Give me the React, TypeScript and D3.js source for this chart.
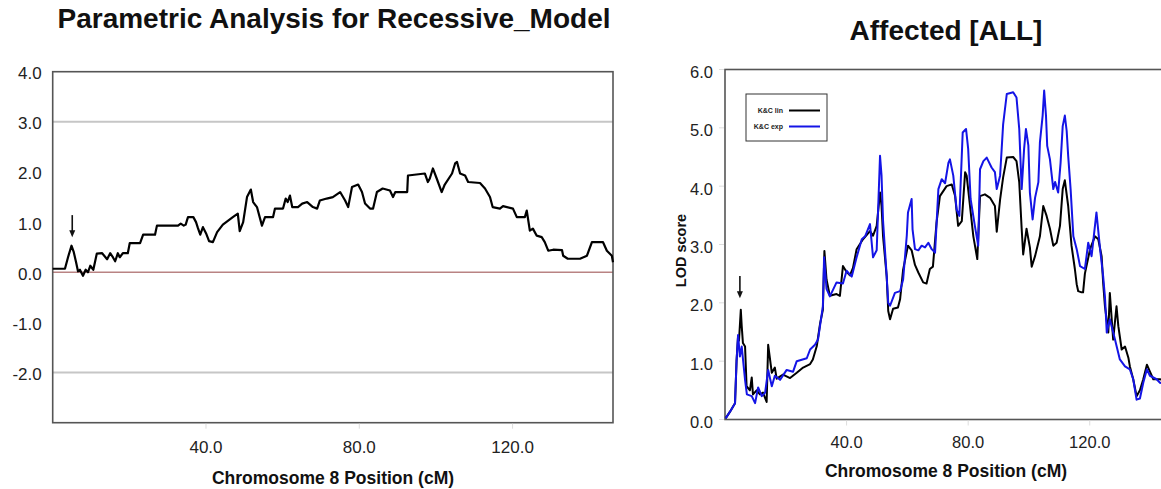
import React from "react";
import * as d3 from "d3";

// ---------- data ----------
// Left panel: parametric LOD (recessive model) along chromosome 8 (cM, LOD)
const recessivePos = [0, 3.2, 4.0, 4.9, 5.5, 6.1, 6.6, 7.1, 7.9, 8.6, 9.2, 9.8, 10.6, 11.5, 12.9, 14.2, 15.0, 15.7, 16.3, 17.0, 17.5, 18.3, 19.6, 20.1, 22.8, 23.6, 26.7, 27.2, 32.7, 33.4, 34.2, 34.7, 35.3, 36.7, 37.4, 37.9, 38.5, 39.2, 40.0, 40.8, 41.8, 42.9, 44.4, 47.0, 48.3, 48.8, 49.7, 50.7, 51.7, 52.3, 53.3, 54.6, 55.4, 57.5, 58.0, 60.1, 60.8, 61.3, 61.9, 62.5, 64.0, 65.1, 66.4, 67.9, 69.0, 69.7, 71.5, 73.1, 75.0, 76.3, 77.1, 78.1, 79.7, 80.7, 81.5, 82.8, 83.6, 84.6, 86.1, 88.0, 88.8, 89.4, 92.5, 92.7, 97.1, 97.9, 98.4, 99.2, 100.2, 101.5, 102.3, 104.2, 105.0, 105.5, 106.3, 107.6, 108.4, 111.5, 112.8, 114.1, 114.8, 116.7, 117.5, 120.1, 121.1, 123.2, 123.7, 124.5, 125.3, 126.3, 127.6, 128.4, 129.3, 130.6, 132.9, 133.2, 134.4, 137.6, 139.4, 140.7, 143.6, 144.6, 145.9, 146.2];
const recessiveLod = [0.07, 0.07, 0.3, 0.53, 0.4, 0.2, 0.02, 0.05, -0.07, 0.05, 0.0, 0.13, 0.05, 0.37, 0.38, 0.26, 0.38, 0.3, 0.22, 0.38, 0.3, 0.38, 0.38, 0.58, 0.58, 0.75, 0.75, 0.93, 0.93, 0.97, 0.93, 0.95, 1.1, 1.1, 1.0, 0.88, 0.75, 0.9, 0.78, 0.62, 0.6, 0.8, 0.95, 1.1, 1.17, 0.82, 1.0, 1.5, 1.65, 1.4, 1.3, 0.93, 1.1, 1.1, 1.27, 1.27, 1.47, 1.4, 1.53, 1.3, 1.3, 1.37, 1.4, 1.3, 1.27, 1.43, 1.47, 1.5, 1.6, 1.43, 1.3, 1.7, 1.75, 1.6, 1.37, 1.27, 1.27, 1.6, 1.67, 1.63, 1.5, 1.6, 1.6, 1.93, 1.97, 1.8, 1.87, 2.07, 1.87, 1.6, 1.75, 1.97, 2.17, 2.2, 1.97, 1.93, 1.8, 1.78, 1.67, 1.5, 1.3, 1.27, 1.32, 1.27, 1.1, 1.1, 1.23, 0.83, 0.87, 0.73, 0.7, 0.6, 0.43, 0.45, 0.44, 0.33, 0.27, 0.27, 0.33, 0.6, 0.6, 0.43, 0.33, 0.2];

// Right panel: K&C lin (black) and K&C exp (blue)
const kcLinPos = [0.2, 1.6, 3.3, 3.8, 4.3, 4.6, 5.2, 5.5, 5.9, 6.6, 7.1, 8.2, 8.8, 9.2, 10.4, 11.5, 12.5, 13.7, 14.2, 15.4, 16.4, 17.0, 19.1, 21.4, 23.6, 25.7, 28.0, 28.9, 30.2, 31.3, 32.2, 32.7, 33.4, 34.5, 36.7, 37.8, 38.8, 40.0, 41.1, 42.1, 43.3, 45.4, 47.7, 48.7, 49.9, 51.0, 51.5, 52.0, 53.2, 53.7, 54.3, 55.3, 56.9, 57.6, 58.6, 60.2, 61.4, 62.5, 63.6, 65.2, 66.3, 67.4, 68.4, 69.6, 70.7, 72.9, 74.6, 75.7, 76.7, 77.9, 79.0, 79.5, 80.6, 81.7, 83.0, 83.9, 85.5, 87.2, 88.8, 89.4, 90.5, 91.5, 92.7, 94.8, 95.9, 96.8, 97.6, 98.1, 99.2, 100.3, 100.9, 102.0, 103.6, 104.7, 105.8, 106.9, 108.0, 109.1, 110.2, 111.1, 111.8, 112.9, 114.0, 115.1, 115.7, 116.2, 117.3, 117.8, 118.4, 120.1, 121.7, 122.8, 123.9, 124.4, 125.0, 126.1, 126.6, 127.7, 128.8, 129.4, 130.5, 131.6, 132.7, 133.2, 134.3, 135.4, 136.5, 137.6, 138.8, 139.8, 140.9, 143.1, 146.0];
const kcLinLod = [0.02, 0.13, 0.28, 1.0, 1.43, 1.35, 1.88, 1.6, 1.31, 1.25, 0.57, 0.5, 0.72, 0.43, 0.5, 0.43, 0.46, 0.3, 1.28, 0.8, 0.89, 0.7, 0.77, 0.71, 0.8, 0.89, 0.95, 1.03, 1.26, 1.65, 1.88, 2.89, 2.4, 2.12, 2.15, 2.12, 2.63, 2.53, 2.47, 2.6, 2.92, 3.09, 3.23, 3.15, 3.32, 3.89, 3.66, 3.14, 2.45, 1.86, 1.72, 1.9, 1.92, 2.06, 2.57, 2.98, 2.9, 2.65, 2.52, 2.35, 2.33, 2.58, 2.62, 3.38, 3.83, 4.0, 4.03, 3.83, 3.32, 3.4, 4.24, 4.18, 3.66, 3.14, 2.75, 3.83, 3.86, 3.8, 3.66, 3.22, 3.77, 4.15, 4.49, 4.5, 4.43, 4.07, 3.27, 2.83, 3.27, 2.95, 2.62, 2.8, 3.14, 3.66, 3.49, 3.27, 2.98, 3.03, 3.32, 3.95, 4.1, 3.66, 2.98, 2.58, 2.32, 2.2, 2.18, 2.18, 2.5, 2.92, 3.14, 3.09, 2.8, 2.35, 1.94, 1.49, 2.17, 1.37, 1.94, 1.6, 1.2, 1.25, 1.06, 0.91, 0.69, 0.4, 0.5, 0.69, 0.94, 0.82, 0.69, 0.69, 0.65];

const kcExpPos = [0.2, 1.6, 3.3, 3.8, 4.3, 4.9, 5.5, 6.6, 7.2, 8.8, 9.9, 10.9, 12.1, 13.2, 14.2, 15.4, 16.4, 18.1, 20.3, 22.4, 23.6, 26.9, 28.0, 29.6, 30.6, 32.2, 32.6, 33.4, 34.5, 36.7, 38.8, 40.0, 41.7, 43.3, 45.0, 46.1, 47.7, 48.7, 49.9, 51.0, 51.5, 52.0, 53.2, 53.7, 54.3, 55.9, 57.6, 58.6, 59.8, 60.2, 61.4, 61.7, 62.5, 63.6, 64.7, 65.8, 66.9, 68.0, 69.1, 70.2, 71.3, 72.4, 73.5, 74.0, 75.1, 76.2, 77.1, 78.2, 79.3, 80.0, 80.8, 82.2, 83.3, 83.9, 85.0, 86.1, 87.7, 88.8, 89.4, 90.5, 91.5, 92.7, 94.8, 95.9, 96.8, 97.6, 98.4, 99.0, 99.8, 100.3, 101.2, 102.0, 103.1, 103.6, 104.5, 105.0, 105.6, 106.0, 106.9, 108.0, 108.6, 109.6, 110.4, 111.1, 111.8, 112.4, 112.9, 113.7, 114.6, 115.7, 116.8, 118.4, 119.5, 120.6, 122.2, 123.4, 124.4, 125.0, 125.6, 126.6, 128.3, 129.9, 131.6, 133.2, 134.3, 135.4, 136.5, 137.6, 138.8, 139.8, 142.0, 143.1, 146.0];
const kcExpLod = [0.02, 0.13, 0.28, 1.0, 1.45, 1.08, 1.25, 0.68, 0.43, 0.4, 0.28, 0.55, 0.4, 0.46, 0.85, 0.57, 0.75, 0.68, 0.85, 0.82, 1.0, 1.05, 1.2, 1.28, 1.37, 1.94, 2.78, 2.24, 2.11, 2.35, 2.33, 2.55, 2.45, 2.78, 3.09, 3.14, 3.35, 2.78, 2.9, 4.52, 4.18, 3.4, 2.45, 2.0, 1.95, 2.17, 2.2, 2.4, 3.15, 3.55, 3.78, 3.26, 2.92, 2.9, 2.98, 2.95, 3.03, 2.92, 2.86, 3.95, 4.12, 4.05, 4.4, 4.46, 4.18, 3.6, 3.49, 4.92, 4.98, 4.64, 3.78, 3.32, 2.98, 4.29, 4.43, 4.49, 4.32, 4.24, 3.95, 4.18, 5.06, 5.58, 5.61, 5.52, 4.98, 3.95, 4.64, 4.98, 4.7, 3.89, 3.43, 3.8, 4.07, 4.75, 5.21, 5.64, 5.21, 4.69, 4.46, 3.95, 4.07, 3.89, 4.4, 5.03, 5.21, 4.95, 4.52, 3.95, 3.14, 2.92, 2.63, 2.58, 3.03, 2.8, 3.55, 2.92, 2.46, 2.1, 1.49, 1.72, 1.37, 1.03, 0.91, 0.86, 0.69, 0.34, 0.36, 0.63, 0.86, 0.75, 0.69, 0.63, 0.6];

const xTickValues = [40, 80, 120];
const leftYTicks = [4, 3, 2, 1, 0, -1, -2];
const leftThresholds = [3, -2];
const rightYTicks = [0, 1, 2, 3, 4, 5, 6];
const legendLabels = ["K&C lin", "K&C exp"];
const seriesColors = ["#000000", "#1414e6"];
const markerPos = 5.1;

const FONT = "'Liberation Sans', Arial, Helvetica, sans-serif";

function zip(xs: number[], ys: number[]): [number, number][] {
  return xs.map((x, i) => [x, ys[i]]);
}

export default function App() {
  // Left panel scales
  const lx = d3.scaleLinear().domain([0, 146.2]).range([52.7, 613]);
  const ly = d3.scaleLinear().domain([-3, 4]).range([422.7, 71.7]);
  // Right panel scales
  const rx = d3.scaleLinear().domain([0, 146.2]).range([725, 1169.4]);
  const ry = d3.scaleLinear().domain([0, 6]).range([419.5, 69.5]);

  const leftLine = d3.line<[number, number]>().x((d) => lx(d[0])).y((d) => ly(d[1]));
  const rightLine = d3.line<[number, number]>().x((d) => rx(d[0])).y((d) => ry(d[1]));

  const fmt = (v: number) => d3.format(".1f")(v).replace("\u2212", "-");

  const arrow = (x: number, y1: number, y2: number) => (
    <g>
      <line x1={x} x2={x} y1={y1} y2={y2 - 5} stroke="#111" strokeWidth={1.6} />
      <path d={`M${x - 3},${y2 - 7} L${x + 3},${y2 - 7} L${x},${y2} Z`} fill="#111" />
    </g>
  );

  return (
    <svg
      width={1161}
      height={489}
      style={{ position: "absolute", left: 0, top: 0, background: "#fff" }}
      fontFamily={FONT}
    >
      {/* ===== LEFT PANEL ===== */}
      <text x={334} y={28} textAnchor="middle" fontSize={28} fontWeight="bold" fill="#111">
        Parametric Analysis for Recessive_Model
      </text>
      {leftThresholds.map((t) => (
        <line key={t} x1={lx(0)} x2={lx(146.2)} y1={ly(t)} y2={ly(t)} stroke="#c6c6c6" strokeWidth={2} />
      ))}
      <line x1={lx(0)} x2={lx(146.2)} y1={ly(0)} y2={ly(0)} stroke="#b98383" strokeWidth={1.6} />
      <rect x={lx(0)} y={ly(4)} width={lx(146.2) - lx(0)} height={ly(-3) - ly(4)} fill="none" stroke="#555" strokeWidth={1.6} />
      {leftYTicks.map((t) => (
        <text key={t} x={lx(0) - 11} y={ly(t) + 3} textAnchor="end" dominantBaseline="middle" fontSize={17} fill="#222">
          {fmt(t)}
        </text>
      ))}
      {xTickValues.map((t) => (
        <g key={t}>
          <line x1={lx(t)} x2={lx(t)} y1={ly(-3) + 1} y2={ly(-3) + 6} stroke="#ddd" strokeWidth={1} />
          <text x={lx(t)} y={453} textAnchor="middle" fontSize={17} fill="#222">
            {fmt(t)}
          </text>
        </g>
      ))}
      <text x={333} y={484} textAnchor="middle" fontSize={17.5} fontWeight="bold" fill="#111">
        Chromosome 8 Position (cM)
      </text>
      <path d={leftLine(zip(recessivePos, recessiveLod)) || ""} fill="none" stroke="#000" strokeWidth={2.2} strokeLinejoin="round" />
      {arrow(lx(markerPos), ly(1.14), ly(0.7))}

      {/* ===== RIGHT PANEL ===== */}
      <text x={946} y={40} textAnchor="middle" fontSize={28} fontWeight="bold" fill="#111">
        Affected [ALL]
      </text>
      <text
        transform={`translate(686,${(ry(0) + ry(6)) / 2 + 6}) rotate(-90)`}
        textAnchor="middle"
        fontSize={14.5}
        fontWeight="bold"
        fill="#111"
      >
        LOD score
      </text>
      <rect x={rx(0)} y={ry(6)} width={rx(146.2) - rx(0)} height={ry(0) - ry(6)} fill="none" stroke="#555" strokeWidth={1.6} />
      {rightYTicks.map((t) => (
        <g key={t}>
          <line x1={rx(0) - 6} x2={rx(0) - 1} y1={ry(t)} y2={ry(t)} stroke="#ddd" strokeWidth={1} />
          <text x={rx(0) - 12} y={ry(t) + 4} textAnchor="end" dominantBaseline="middle" fontSize={16.5} fill="#222">
            {fmt(t)}
          </text>
        </g>
      ))}
      {xTickValues.map((t) => (
        <g key={t}>
          <line x1={rx(t)} x2={rx(t)} y1={ry(0) + 1} y2={ry(0) + 6} stroke="#ddd" strokeWidth={1} />
          <text x={rx(t)} y={448} textAnchor="middle" fontSize={16.5} fill="#222">
            {fmt(t)}
          </text>
        </g>
      ))}
      <text x={946} y={477} textAnchor="middle" fontSize={17.5} fontWeight="bold" fill="#111">
        Chromosome 8 Position (cM)
      </text>
      <path d={rightLine(zip(kcLinPos, kcLinLod)) || ""} fill="none" stroke={seriesColors[0]} strokeWidth={2} strokeLinejoin="round" />
      <path d={rightLine(zip(kcExpPos, kcExpLod)) || ""} fill="none" stroke={seriesColors[1]} strokeWidth={2} strokeLinejoin="round" />
      {arrow(rx(markerPos - 0.2), ry(2.46), ry(2.08))}

      {/* legend */}
      <rect x={746} y={94} width={81} height={47} fill="#fff" stroke="#333" strokeWidth={1} />
      {legendLabels.map((lab, i) => (
        <g key={lab}>
          <text x={783} y={113 + i * 16} textAnchor="end" fontSize={7} fontWeight="bold" fill="#222">
            {lab}
          </text>
          <line x1={789} x2={820} y1={110.5 + i * 16} y2={110.5 + i * 16} stroke={seriesColors[i]} strokeWidth={2} />
        </g>
      ))}
    </svg>
  );
}
